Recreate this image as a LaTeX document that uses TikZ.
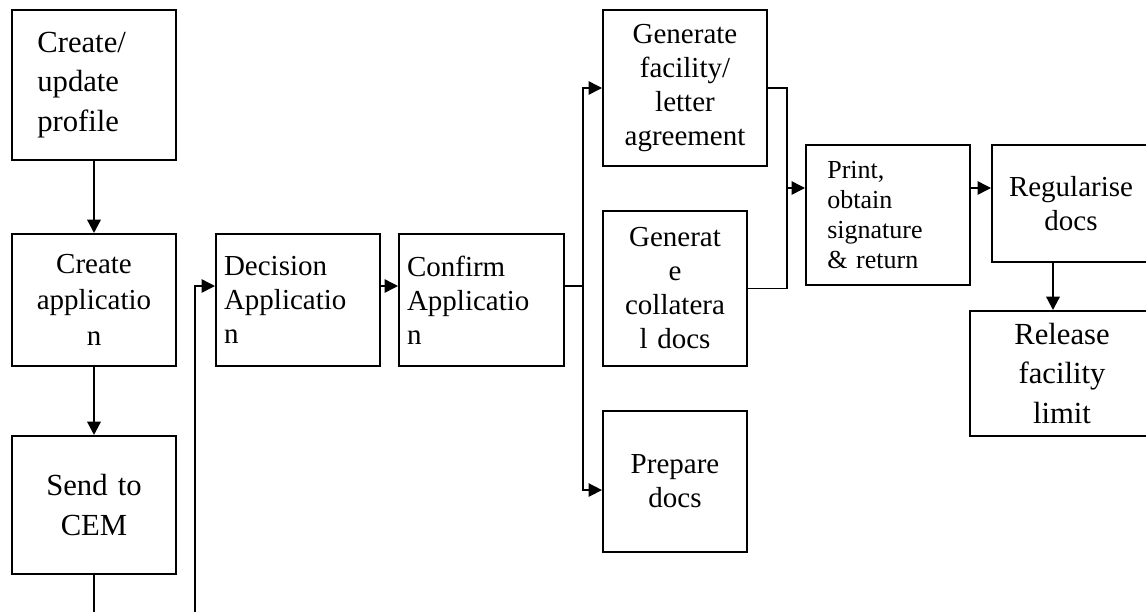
\documentclass[tikz,border=0pt]{standalone}
\usepackage{fontspec}
\setmainfont{Liberation Serif}
\usetikzlibrary{arrows.meta}

\tikzset{
  box/.style={draw, line width=1.5pt, inner xsep=4pt, inner ysep=2pt, align=center},
  txtbig/.style={font=\fontsize{23}{29.5}\selectfont},
  txtmid/.style={font=\fontsize{21.75}{25.5}\selectfont},
  txtsmall/.style={font=\fontsize{19.5}{22.5}\selectfont},
  flow/.style={line width=1.1pt, -{Triangle[length=10pt,width=10pt]}},
  down/.style={line width=1.7pt, -{Triangle[length=10pt,width=10pt]}},
  link/.style={line width=1.1pt}
}

\begin{document}
\begin{tikzpicture}[x=0.75pt, y=-0.75pt]
    \useasboundingbox (0,0) rectangle (1146,611);

    % left column
    \node[box, txtbig, align=left, inner xsep=19pt, minimum width=123pt, minimum height=112.5pt, text width=85pt] (prof) at (94,85) {Create/\\update\\profile};
    \node[box, txtmid, font=\fontsize{21.75}{27}\selectfont, minimum width=123pt, minimum height=99pt, text width=115pt] (capp) at (94,300) {Create\\applicatio\\n};
    \node[box, txtbig, minimum width=123pt, minimum height=103.5pt, text width=115pt] (cem) at (94,505) {Send to\\CEM};

    % decision and confirm
    \node[box, txtmid, align=left, inner xsep=6pt, minimum width=123pt, minimum height=99pt, text width=111pt] (dec) at (298,300) {Decision\\Applicatio\\n};
    \node[box, txtmid, align=left, inner xsep=6pt, minimum width=123.75pt, minimum height=99pt, text width=111.75pt] (conf) at (481.5,300) {Confirm\\Applicatio\\n};

    % documents
    \node[box, txtmid, minimum width=123pt, minimum height=117pt, text width=115pt] (facl) at (685,88) {Generate\\facility/\\letter\\agreement};
    \node[box, txtmid, minimum width=108pt, minimum height=116.25pt, text width=100pt] (coll) at (675,288.5) {Generat\\e\\collatera\\l docs};
    \node[box, txtmid, minimum width=108pt, minimum height=105.75pt, text width=100pt] (prep) at (675,481.5) {Prepare\\docs};

    % signing and release
    \node[box, txtsmall, align=left, inner xsep=16pt, minimum width=123pt, minimum height=105pt, text width=91pt] (sign) at (888,215) {Print,\\obtain\\signature\\\& return};
    \node[box, txtmid, minimum width=118.5pt, minimum height=87.75pt, text width=110.5pt] (reg) at (1071,203.5) {Regularise\\docs};
    \node[box, txtbig, minimum width=138pt, minimum height=93.75pt, text width=130pt] (rel) at (1062,373.5) {Release\\facility\\limit};

    \coordinate (fork) at (583,286);
    \coordinate (merge) at (787,188);

    \draw[down] (prof) -- (capp);
    \draw[down] (capp) -- (cem);
    \draw[flow] (cem.south) -- ++(0,60) -| ([xshift=-15pt,yshift=10.5pt]dec.west) -- ([yshift=10.5pt]dec.west);
    \draw[flow] ([yshift=10.5pt]dec.east) -- ([yshift=10.5pt]conf.west);
    \draw[link] ([yshift=10.5pt]conf.east) -- (fork);
    \draw[flow] (fork) |- (facl.west);
    \draw[flow] (fork) |- ([yshift=-6.4pt]prep.west);
    \draw[link] (facl.east) -| (merge) |- (coll.east);
    \draw[flow] (merge) -- (sign.west |- merge);
    \draw[flow] (sign.east |- merge) -- (reg.west |- merge);
    \draw[down] ([xshift=-13.5pt]reg.south) -- ([xshift=-13.5pt]reg.south |- rel.north);
\end{tikzpicture}
\end{document}
